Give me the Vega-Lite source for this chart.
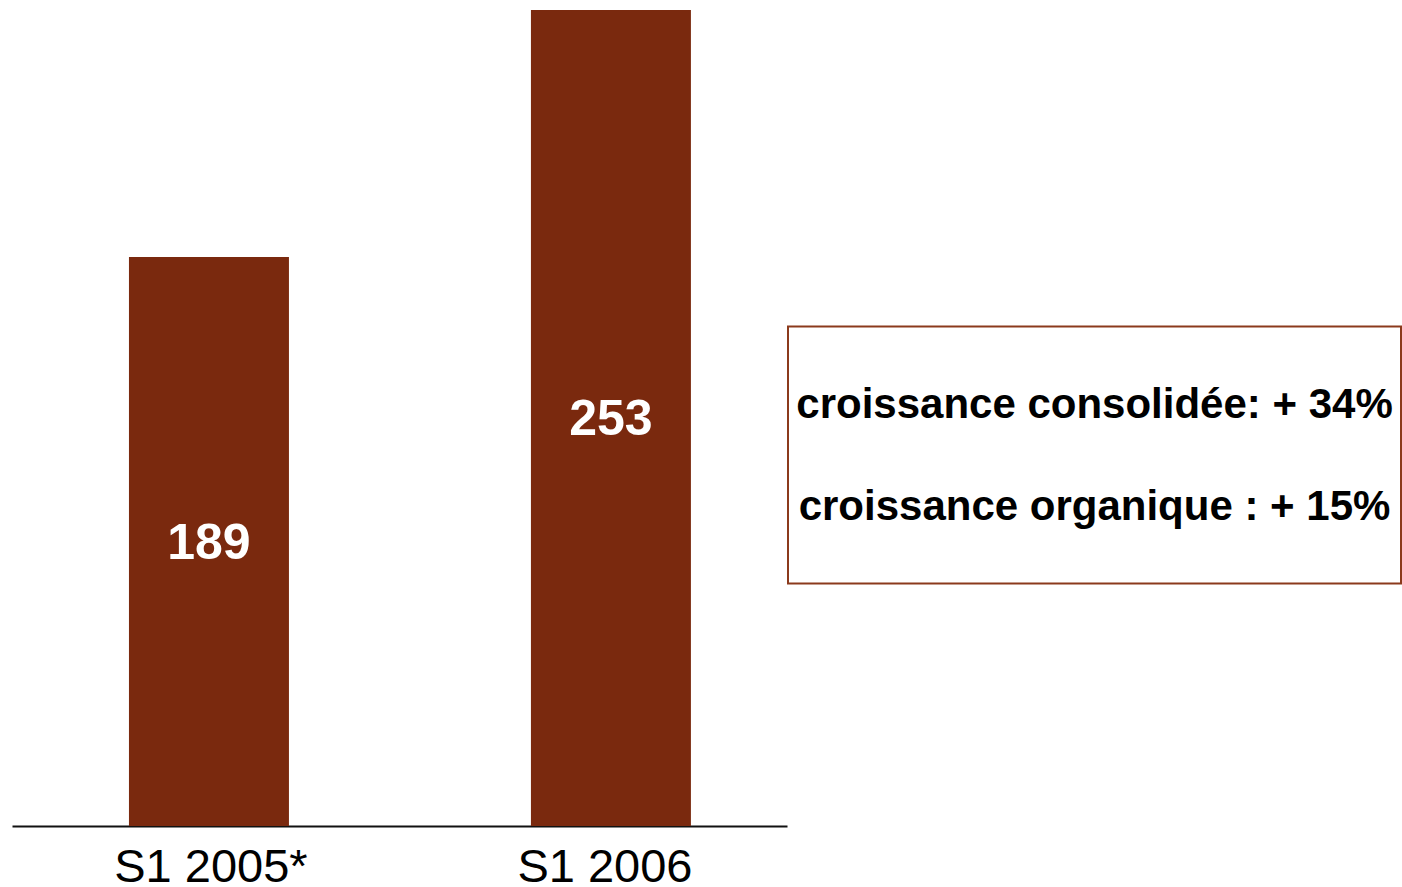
{
  "$schema": "https://vega.github.io/schema/vega-lite/v6.json",
  "background": "white",
  "padding": {"left": 12, "top": 10, "right": 0, "bottom": 0},
  "config": {"font": "Liberation Sans", "view": {"stroke": null}},
  "spacing": 0,
  "center": true,
  "hconcat": [
    {
      "width": 775,
      "height": 816,
      "data": {"values": [{"period": "S1 2005*", "value": 189}, {"period": "S1 2006", "value": 253}]},
      "encoding": {
        "x": {
          "field": "period", "type": "nominal", "sort": null,
          "scale": {"paddingInner": 0.602, "paddingOuter": 0.265, "align": 0.549},
          "axis": {"title": null, "labelAngle": 0, "ticks": false, "grid": false, "domainColor": "#111111", "domainWidth": 2, "labelFontSize": 47, "labelColor": "#000000", "labelPadding": 18, "labelLimit": 0, "minExtent": 75,
            "labelOffset": {"condition": {"test": "datum.value === 'S1 2006'", "value": -6}, "value": 2}}
        }
      },
      "layer": [
        {
          "mark": {"type": "bar", "color": "#7a290e", "clip": true},
          "encoding": {"y": {"field": "value", "type": "quantitative", "scale": {"domain": [41.57, 253], "zero": false, "nice": false}, "axis": null}}
        },
        {
          "mark": {"type": "text", "color": "white", "fontWeight": "bold", "fontSize": 50, "baseline": "middle", "dy": 2},
          "encoding": {
            "y": {"field": "value", "type": "quantitative", "scale": {"domain": [41.57, 464.43], "zero": false, "nice": false}, "axis": null},
            "text": {"field": "value", "type": "quantitative"}
          }
        }
      ],
      "resolve": {"scale": {"y": "independent"}}
    },
    {
      "width": 613,
      "height": 257,
      "view": {"stroke": "#8b3a1c", "strokeWidth": 2},
      "data": {"values": [{"line": 1, "label": "croissance consolidée: + 34%"}, {"line": 2, "label": "croissance organique : + 15%"}]},
      "mark": {"type": "text", "fontWeight": "bold", "fontSize": 42, "color": "#000000", "baseline": "alphabetic"},
      "encoding": {
        "y": {"field": "line", "type": "ordinal", "scale": {"type": "point", "padding": 0.76, "align": 0.59}, "axis": null},
        "text": {"field": "label", "type": "nominal"}
      }
    }
  ]
}
